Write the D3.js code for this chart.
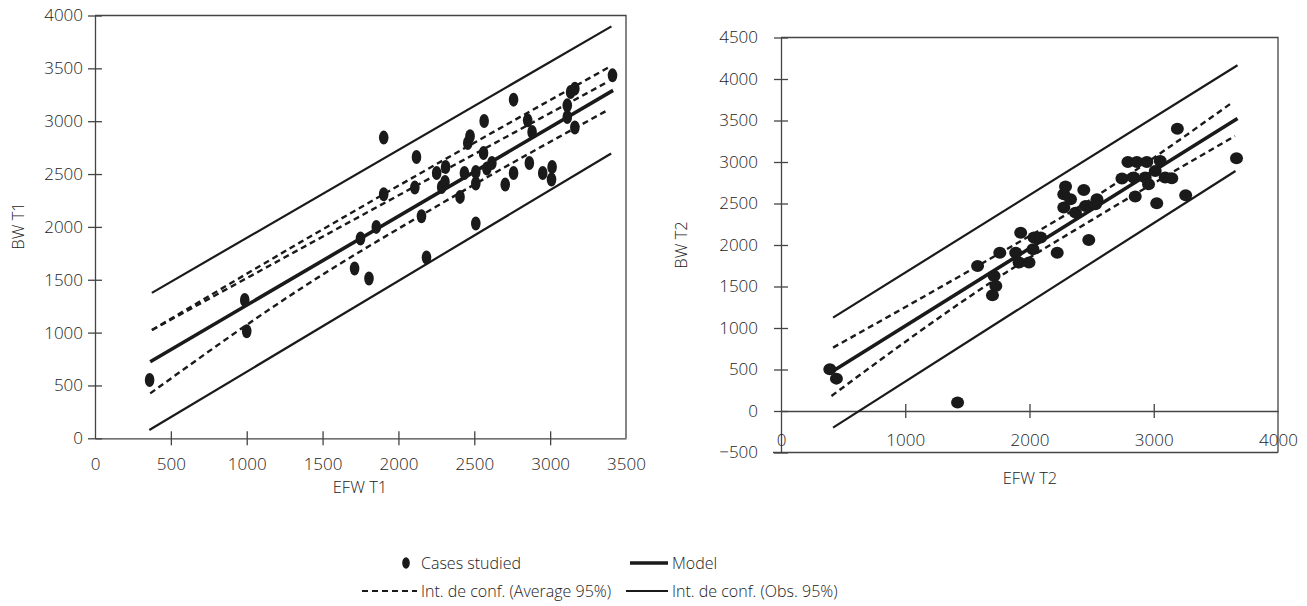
<!DOCTYPE html>
<html>
<head>
<meta charset="utf-8">
<script src="https://cdn.jsdelivr.net/npm/d3@7"></script>
<style>
  body { margin: 0; background: #fff; }
  svg text { font-family: "Open Sans", sans-serif; font-weight: 300; fill: #222; }
</style>
</head>
<body>
<div id="chart"></div>
<script>
// T1 cases (EFW, BW)
var efwT1 = [360, 987, 1000, 1711, 1750, 1806, 1854, 1903, 1903, 2108, 2119, 2152, 2185, 2252, 2285, 2307, 2311, 2406, 2435, 2457, 2472, 2510, 2510, 2510, 2561, 2565, 2583, 2616, 2704, 2759, 2759, 2852, 2863, 2881, 2951, 3009, 3013, 3113, 3113, 3135, 3163, 3163, 3411];
var bwT1 = [551, 1308, 1013, 1607, 1890, 1512, 2000, 2845, 2309, 2372, 2662, 2101, 1711, 2510, 2378, 2425, 2567, 2284, 2510, 2794, 2857, 2520, 2410, 2032, 2699, 3002, 2552, 2605, 2400, 3204, 2510, 3008, 2605, 2898, 2510, 2448, 2567, 3150, 3040, 3276, 3308, 2940, 3434];

// T1 lines, [EFW, BW] pairs
var modelT1 = [[364, 724], [3415, 3292]];
var obsHiT1 = [[375, 1376], [3404, 3897]];
var obsLoT1 = [[358, 78], [3402, 2694]];
var avgHiT1 = [[375, 1024], [1358, 1858], [3389, 3512]];
var avgMidT1 = [[375, 1024], [1358, 1796], [3377, 3370]];
var avgLoT1 = [[364, 425], [1358, 1418], [2300, 2235], [3377, 3103]];

// T2 cases
var efwT2 = [393, 446, 1421, 1582, 1761, 1715, 1729, 1702, 1929, 1889, 1916, 1996, 2028, 2036, 2090, 2223, 2276, 2276, 2290, 2437, 2330, 2370, 2451, 2543, 2531, 2477, 2792, 2864, 2944, 3052, 2744, 2838, 2931, 3012, 2958, 3092, 3145, 2851, 3024, 3257, 3190, 3666];
var bwT2 = [502, 390, 101, 1747, 1908, 1627, 1506, 1394, 2149, 1908, 1788, 1788, 1948, 2089, 2089, 1908, 2611, 2451, 2704, 2663, 2551, 2390, 2470, 2551, 2490, 2060, 3000, 3000, 3000, 3012, 2800, 2812, 2812, 2892, 2731, 2812, 2804, 2583, 2502, 2599, 3402, 3045];

var modelT2 = [[419, 482], [3674, 3523]];
var obsHiT2 = [[419, 1125], [3674, 4165]];
var obsLoT2 = [[419, -200], [3658, 2892]];
var avgHiT2 = [[419, 764], [1675, 1828], [2500, 2555], [3631, 3716]];
var avgLoT2 = [[406, 181], [1809, 1667], [2500, 2300], [3653, 3313]];

var ticksX1 = [0, 500, 1000, 1500, 2000, 2500, 3000, 3500];
var ticksY1 = [0, 500, 1000, 1500, 2000, 2500, 3000, 3500, 4000];
var ticksX2 = [0, 1000, 2000, 3000, 4000];
var ticksY2 = [-500, 0, 500, 1000, 1500, 2000, 2500, 3000, 3500, 4000, 4500];

var W = 1307, H = 606;
var svg = d3.select('#chart').append('svg')
  .attr('width', W)
  .attr('height', H);

var ink = '#1a1a1a';
var axisCol = '#444';
var fmt = d3.format('d');

function drawPanel(o) {
  var x = d3.scaleLinear().domain(o.xDomain).range([o.left, o.right]);
  var y = d3.scaleLinear().domain(o.yDomain).range([o.bottom, o.top]);
  var g = svg.append('g');

  // frame (top and right)
  g.append('path')
    .attr('d', 'M' + o.left + ',' + o.top + 'H' + o.right + 'V' + o.bottom)
    .attr('fill', 'none')
    .attr('stroke', axisCol)
    .attr('stroke-width', 1.3);
  if (o.bottomFrame) {
    g.append('line')
      .attr('x1', o.left - 8).attr('x2', o.right)
      .attr('y1', o.bottom).attr('y2', o.bottom)
      .attr('stroke', axisCol).attr('stroke-width', 1.3);
  }

  // y axis, ticks cross the line
  var ya = g.append('g')
    .attr('transform', 'translate(' + o.left + ',0)')
    .call(d3.axisLeft(y).tickValues(o.yTicks).tickFormat(fmt).tickSize(7).tickSizeOuter(0));
  ya.select('.domain').attr('stroke', axisCol).attr('stroke-width', 1.3);
  ya.selectAll('.tick line').attr('x1', 7).attr('stroke', axisCol).attr('stroke-width', 1.3);
  ya.selectAll('.tick text')
    .attr('x', -o.yLabelGap)
    .style('font-size', '17px')
    .style('font-family', '"Open Sans", sans-serif')
    .attr('fill', '#222');

  // x axis
  var xa = g.append('g')
    .attr('transform', 'translate(0,' + y(0) + ')')
    .call(d3.axisBottom(x).tickValues(o.xTicks).tickFormat(fmt).tickSize(7).tickSizeOuter(0));
  xa.select('.domain').attr('stroke', axisCol).attr('stroke-width', 1.3);
  xa.selectAll('.tick line').attr('y1', -7).attr('stroke', axisCol).attr('stroke-width', 1.3)
    .attr('display', function(d) { return d === 0 || d === o.xDomain[1] ? 'none' : null; });
  xa.selectAll('.tick text')
    .attr('y', o.xLabelY - y(0))
    .attr('dy', '0.35em')
    .style('font-size', '17px')
    .style('font-family', '"Open Sans", sans-serif')
    .attr('fill', '#222');

  // axis titles
  g.append('text')
    .attr('transform', 'translate(' + o.yTitle[0] + ',' + o.yTitle[1] + ') rotate(-90)')
    .attr('text-anchor', 'middle')
    .attr('dy', '0.35em')
    .style('font-size', '16.5px')
    .text(o.yName);
  g.append('text')
    .attr('x', o.xTitle[0]).attr('y', o.xTitle[1])
    .attr('text-anchor', 'middle')
    .attr('dy', '0.35em')
    .style('font-size', '16.5px')
    .text(o.xName);

  var line = d3.line()
    .x(function(d) { return x(d[0]); })
    .y(function(d) { return y(d[1]); })
    .curve(d3.curveMonotoneX);

  o.obs.forEach(function(l) {
    g.append('path').datum(l).attr('d', line)
      .attr('fill', 'none').attr('stroke', ink).attr('stroke-width', 2.2);
  });
  o.avg.forEach(function(l) {
    g.append('path').datum(l).attr('d', line)
      .attr('fill', 'none').attr('stroke', ink).attr('stroke-width', 2.4)
      .attr('stroke-dasharray', '6,4');
  });
  g.append('path').datum(o.model).attr('d', line)
    .attr('fill', 'none').attr('stroke', ink).attr('stroke-width', 3.6);

  g.selectAll('ellipse.pt')
    .data(d3.range(o.xs.length))
    .enter().append('ellipse')
    .attr('class', 'pt')
    .attr('cx', function(i) { return x(o.xs[i]); })
    .attr('cy', function(i) { return y(o.ys[i]); })
    .attr('rx', o.rx)
    .attr('ry', o.ry)
    .attr('fill', ink);
}

drawPanel({
  xDomain: [0, 3500], yDomain: [0, 4000],
  left: 95, right: 626, top: 15.5, bottom: 438.3,
  xTicks: ticksX1, yTicks: ticksY1,
  yLabelGap: 12, xLabelY: 464,
  yTitle: [18, 226], xTitle: [360, 487],
  yName: 'BW T1', xName: 'EFW T1',
  xs: efwT1, ys: bwT1, rx: 4.8, ry: 7,
  model: modelT1, obs: [obsHiT1, obsLoT1], avg: [avgHiT1, avgMidT1, avgLoT1]
});

drawPanel({
  xDomain: [0, 4000], yDomain: [-500, 4500],
  left: 781, right: 1278, top: 37.5, bottom: 452.5,
  xTicks: ticksX2, yTicks: ticksY2,
  yLabelGap: 23, xLabelY: 440, bottomFrame: true,
  yTitle: [681, 245], xTitle: [1030, 478],
  yName: 'BW T2', xName: 'EFW T2',
  xs: efwT2, ys: bwT2, rx: 6.5, ry: 6,
  model: modelT2, obs: [obsHiT2, obsLoT2], avg: [avgHiT2, avgLoT2]
});

// legend
var legend = svg.append('g').style('font-size', '16px');
var row1 = 563, row2 = 591;
legend.append('ellipse').attr('cx', 406).attr('cy', row1).attr('rx', 3.8).attr('ry', 5.8).attr('fill', ink);
legend.append('text').attr('x', 421).attr('y', row1).attr('dy', '0.35em').text('Cases studied');
legend.append('line').attr('x1', 630).attr('x2', 668).attr('y1', row1).attr('y2', row1)
  .attr('stroke', ink).attr('stroke-width', 3.6);
legend.append('text').attr('x', 672).attr('y', row1).attr('dy', '0.35em').text('Model');
legend.append('line').attr('x1', 362).attr('x2', 417).attr('y1', row2).attr('y2', row2)
  .attr('stroke', ink).attr('stroke-width', 2).attr('stroke-dasharray', '6,4');
legend.append('text').attr('x', 421).attr('y', row2).attr('dy', '0.35em').text('Int. de conf. (Average 95%)');
legend.append('line').attr('x1', 626).attr('x2', 668).attr('y1', row2).attr('y2', row2)
  .attr('stroke', ink).attr('stroke-width', 2);
legend.append('text').attr('x', 672).attr('y', row2).attr('dy', '0.35em').text('Int. de conf. (Obs. 95%)');
</script>
</body>
</html>
